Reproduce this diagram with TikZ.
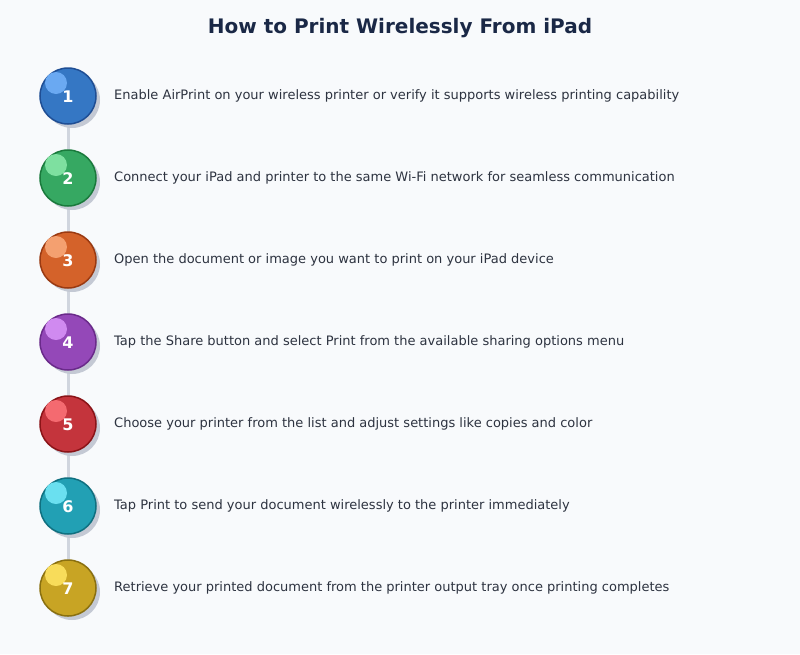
\documentclass[tikz,border=0pt]{standalone}
\usepackage{fontspec}
\setmainfont{DejaVu Sans}
\usepackage{xcolor}
\usetikzlibrary{positioning,calc,shadows}

\definecolor{bgpage}{HTML}{F8FAFC}
\definecolor{titleink}{HTML}{1A2846}
\definecolor{bodyink}{HTML}{2D3340}
\definecolor{linkgray}{HTML}{D0D5DE}
\definecolor{shadegray}{HTML}{C4C9D4}
\definecolor{blueA}{HTML}{3577C4}\definecolor{blueB}{HTML}{1F4E94}\definecolor{blueC}{HTML}{6AA9F2}
\definecolor{greenA}{HTML}{36A862}\definecolor{greenB}{HTML}{1A7A3C}\definecolor{greenC}{HTML}{7EE0A0}
\definecolor{orangeA}{HTML}{D4622A}\definecolor{orangeB}{HTML}{9A3A12}\definecolor{orangeC}{HTML}{F4A070}
\definecolor{purpleA}{HTML}{9448B8}\definecolor{purpleB}{HTML}{6A2A8A}\definecolor{purpleC}{HTML}{D08AF0}
\definecolor{redA}{HTML}{C4343C}\definecolor{redB}{HTML}{8A1418}\definecolor{redC}{HTML}{F46A70}
\definecolor{tealA}{HTML}{22A0B4}\definecolor{tealB}{HTML}{107080}\definecolor{tealC}{HTML}{6AE0F0}
\definecolor{goldA}{HTML}{C8A424}\definecolor{goldB}{HTML}{8A7010}\definecolor{goldC}{HTML}{F8DC5A}

\tikzset{
  ball/.style={circle,minimum size=56pt,inner sep=0pt,line width=1.5pt,
    drop shadow={shadow xshift=4pt,shadow yshift=-4pt,fill=shadegray,opacity=1}},
  num/.style={text=white,font=\fontsize{16}{19}\selectfont\bfseries},
  task/.style={anchor=west,text=bodyink,font=\fontsize{13}{16}\selectfont,inner sep=0pt},
  link/.style={draw=linkgray,line width=3pt}
}

\begin{document}
\begin{tikzpicture}[x=1pt,y=-1pt]
\fill[bgpage] (0,0) rectangle (800,654);
\useasboundingbox (0,0) rectangle (800,654);
\node[text=titleink,font=\fontsize{20}{24}\selectfont\bfseries] (title) at (400,28) {How to Print Wirelessly From iPad};
% spine behind the steps
\coordinate (top) at (68,96);
\coordinate (bottom) at (68,588);
\draw[link] (top) -- (bottom);
% steps
\node[ball,fill=blueA,draw=blueB] (c1) at (68,96) {};
\node[ball,fill=greenA,draw=greenB] (c2) at (68,178) {};
\node[ball,fill=orangeA,draw=orangeB] (c3) at (68,260) {};
\node[ball,fill=purpleA,draw=purpleB] (c4) at (68,342) {};
\node[ball,fill=redA,draw=redB] (c5) at (68,424) {};
\node[ball,fill=tealA,draw=tealB] (c6) at (68,506) {};
\node[ball,fill=goldA,draw=goldB] (c7) at (68,588) {};
\fill[blueC] ($(c1)+(-12,-13)$) circle (11);
\fill[greenC] ($(c2)+(-12,-13)$) circle (11);
\fill[orangeC] ($(c3)+(-12,-13)$) circle (11);
\fill[purpleC] ($(c4)+(-12,-13)$) circle (11);
\fill[redC] ($(c5)+(-12,-13)$) circle (11);
\fill[tealC] ($(c6)+(-12,-13)$) circle (11);
\fill[goldC] ($(c7)+(-12,-13)$) circle (11);
\node[num] at ($(c1)+(0,1)$) {1};
\node[num] at ($(c2)+(0,1)$) {2};
\node[num] at ($(c3)+(0,1)$) {3};
\node[num] at ($(c4)+(0,1)$) {4};
\node[num] at ($(c5)+(0,1)$) {5};
\node[num] at ($(c6)+(0,1)$) {6};
\node[num] at ($(c7)+(0,1)$) {7};
% texts
\node[task] (t1) at (114,96) {Enable AirPrint on your wireless printer or verify it supports wireless printing capability};
\node[task] (t2) at (114,178) {Connect your iPad and printer to the same Wi-Fi network for seamless communication};
\node[task] (t3) at (114,260) {Open the document or image you want to print on your iPad device};
\node[task] (t4) at (114,342) {Tap the Share button and select Print from the available sharing options menu};
\node[task] (t5) at (114,424) {Choose your printer from the list and adjust settings like copies and color};
\node[task] (t6) at (114,506) {Tap Print to send your document wirelessly to the printer immediately};
\node[task] (t7) at (114,588) {Retrieve your printed document from the printer output tray once printing completes};
\end{tikzpicture}
\end{document}
